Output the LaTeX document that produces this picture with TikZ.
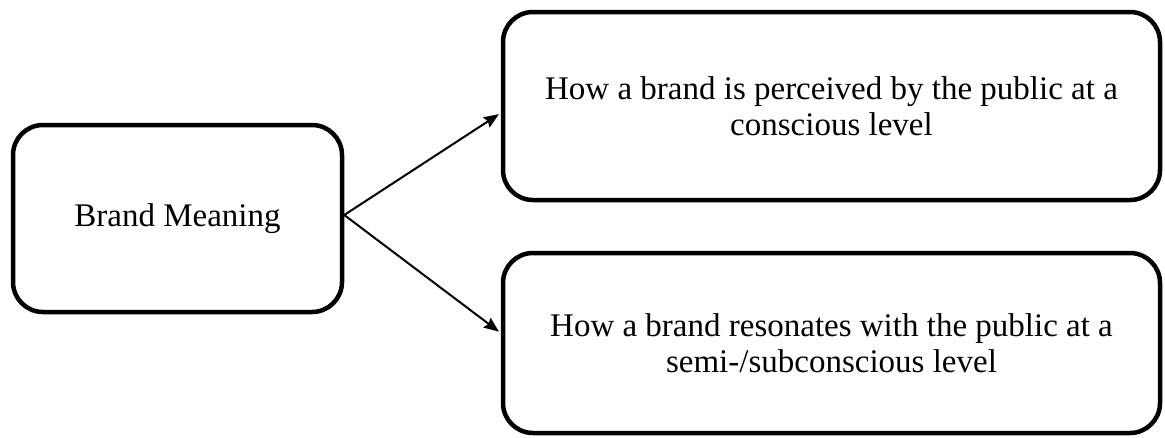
\documentclass[tikz,border=0pt]{standalone}
\usepackage{fontspec}
\setmainfont{Liberation Serif}
\usetikzlibrary{arrows.meta}
\tikzset{
  roundbox/.style={draw=black, line width=4.5pt, rounded corners=30pt, fill=white,
    inner sep=0pt, align=center, font=\fontsize{33}{36}\selectfont},
  conn/.style={line width=2pt, -{Stealth[length=15pt,width=12pt,inset=2pt]}, shorten >=2.2pt}
}
\begin{document}
\begin{tikzpicture}[x=1pt,y=-1pt]
\useasboundingbox (0,0) rectangle (1165,437);
\node[roundbox, minimum width=329pt, minimum height=187pt] (L) at (177.5,218.5) {Brand Meaning};
\node[roundbox, minimum width=657pt, minimum height=188pt] (T) at (831.5,106)
  {How a brand is perceived by the public at a\\conscious level};
\node[roundbox, minimum width=657pt, minimum height=180pt] (B) at (831.5,343)
  {How a brand resonates with the public at a\\semi-/subconscious level};
\coordinate (ta) at (0,113);
\coordinate (ba) at (0,333);
\draw[conn] ([yshift=3.5pt]L.east) -- (T.west |- ta);
\draw[conn] ([yshift=3.5pt]L.east) -- (B.west |- ba);
\end{tikzpicture}
\end{document}
